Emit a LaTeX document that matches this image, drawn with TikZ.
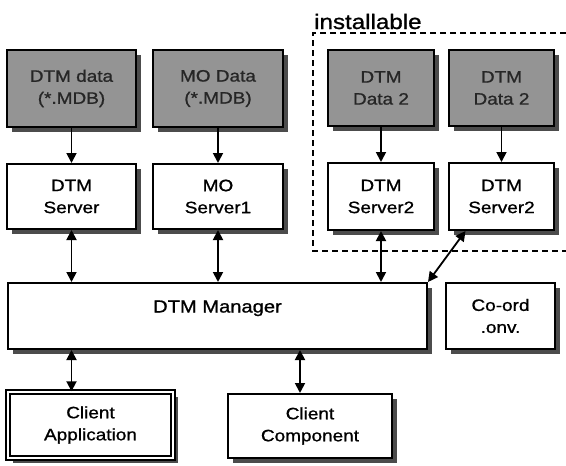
\documentclass[tikz,border=0pt]{standalone}
\usepackage{fontspec}
\setmainfont[FakeStretch=1.15, FakeBold=1]{Liberation Sans}
\usetikzlibrary{arrows.meta,shadows}
\begin{document}
\begin{tikzpicture}[x=1pt,y=-1pt,
  every node/.style={font=\fontsize{16.5}{22}\selectfont, align=center, inner sep=0pt},
  box/.style={draw=black, line width=2pt, fill=white,
    drop shadow={shadow xshift=5pt, shadow yshift=-5pt, fill=black!70, opacity=1}},
  databox/.style={box, fill=black!42, text=black!85},
  conn/.style={line width=1.8pt, -{Triangle[length=10pt,width=10pt]}},
  bconn/.style={line width=1.8pt, {Triangle[length=10pt,width=10pt]}-{Triangle[length=10pt,width=10pt]}}]
\useasboundingbox (0,0) rectangle (566,466);
\fill[white] (0,0) rectangle (566,466);

% installable region
\node[font=\fontsize{21}{24}\selectfont, anchor=base west] (inst) at (314,29) {installable};
\draw[line width=1.6pt, dash pattern=on 6pt off 4pt] (566,33) -- (313,33) -- (313,251) -- (566,251);

% data boxes
\node[databox, minimum width=129pt, minimum height=77pt] (d1) at (71.5,88.5) {DTM data\\(*.MDB)};
\node[databox, minimum width=130pt, minimum height=77pt] (d2) at (218,88.5) {MO Data\\(*.MDB)};
\node[databox, minimum width=106pt, minimum height=76pt] (d3) at (381,88) {DTM\\Data 2};
\node[databox, minimum width=105pt, minimum height=76pt] (d4) at (501.5,88) {DTM\\Data 2};

% servers
\node[box, minimum width=129pt, minimum height=65pt] (s1) at (71.5,196.5) {DTM\\Server};
\node[box, minimum width=130pt, minimum height=65pt] (s2) at (218,196.5) {MO\\Server1};
\node[box, minimum width=106pt, minimum height=67pt] (s3) at (381,196.5) {DTM\\Server2};
\node[box, minimum width=105pt, minimum height=67pt] (s4) at (501.5,196.5) {DTM\\Server2};

% manager and co-ord
\node[box, minimum width=419pt, minimum height=66pt, font=\fontsize{17.5}{20}\selectfont,
      text height=12pt, text depth=19pt] (m) at (217.5,316) {DTM Manager};
\node[box, minimum width=109pt, minimum height=66pt] (c) at (500.5,316) {Co-ord\\.onv.};

% clients
\node[box, minimum width=165pt, minimum height=66pt, double, double distance=2.5pt, line width=1.4pt] (ca) at (90.5,425) {Client\\Application};
\node[box, minimum width=164pt, minimum height=64pt] (cc) at (310,426) {Client\\Component};

% connectors
\draw[conn] (d1) -- (s1);
\draw[conn] (d2) -- (s2);
\draw[conn] (d3) -- (s3);
\draw[conn] (d4) -- (s4);
\draw[bconn] (s1.south) -- (s1.south |- m.north);
\draw[bconn] (s2.south) -- (s2.south |- m.north);
\draw[bconn] (s3.south) -- (s3.south |- m.north);
\draw[bconn] ([xshift=-36pt]s4.south) -- (m.north east);
\draw[bconn] (s1.south |- m.south) -- (s1.south |- ca.north);
\draw[bconn] ([xshift=-10pt]cc.north |- m.south) -- ([xshift=-10pt]cc.north);
\end{tikzpicture}
\end{document}
